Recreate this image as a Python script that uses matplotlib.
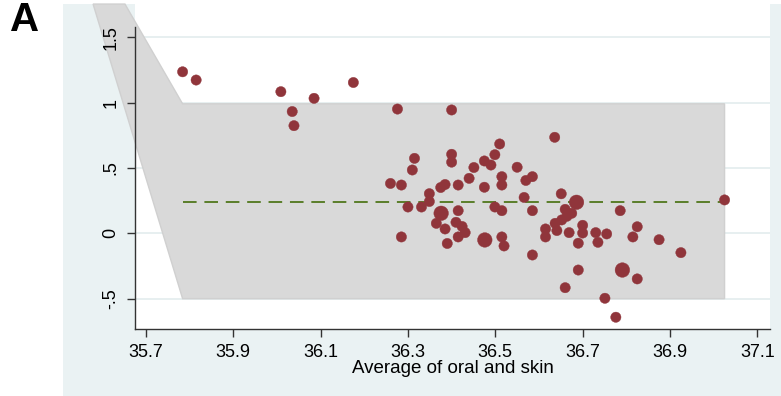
import numpy as np
import matplotlib
matplotlib.use("Agg")
import matplotlib.pyplot as plt
from matplotlib.patches import Polygon, Rectangle

plt.rcParams['font.family'] = ['Liberation Sans', 'DejaVu Sans']

# average of oral and skin temperature, difference, weight (frequency)
avg = [35.784, 35.815, 36.009, 36.085, 36.175, 36.035, 36.039, 36.276, 36.400, 36.636,
       36.510, 36.400, 36.400, 36.499, 36.315, 36.310, 36.475, 36.490, 36.451, 36.550,
       36.440, 36.515, 36.515, 36.475, 36.260, 36.285, 36.375, 36.385, 36.415, 36.349,
       36.349, 36.300, 36.331, 36.376, 36.415, 36.499, 36.515, 36.365, 36.385, 36.410,
       36.424, 36.431, 36.415, 36.476, 36.515, 36.520, 36.285, 36.390, 36.570, 36.585,
       36.566, 36.585, 36.651, 36.686, 36.660, 36.675, 36.664, 36.652, 36.637, 36.615,
       36.615, 36.641, 36.669, 36.700, 36.700, 36.690, 36.730, 36.735, 36.755, 36.786,
       36.825, 36.815, 36.875, 36.925, 37.025, 36.585, 36.690, 36.791, 36.825, 36.660,
       36.751, 36.776]
diff = [1.235, 1.172, 1.083, 1.032, 1.153, 0.931, 0.823, 0.950, 0.943, 0.734,
        0.683, 0.604, 0.544, 0.601, 0.573, 0.484, 0.553, 0.522, 0.503, 0.505,
        0.420, 0.433, 0.369, 0.352, 0.381, 0.369, 0.350, 0.373, 0.369, 0.303,
        0.243, 0.201, 0.201, 0.153, 0.173, 0.201, 0.173, 0.076, 0.033, 0.084,
        0.052, 0.005, -0.028, -0.051, -0.028, -0.097, -0.028, -0.078, 0.404, 0.433,
        0.274, 0.173, 0.302, 0.237, 0.183, 0.153, 0.130, 0.102, 0.076, 0.033,
        -0.028, 0.021, 0.005, 0.061, 0.002, -0.076, 0.005, -0.069, -0.005, 0.173,
        0.050, -0.028, -0.049, -0.148, 0.255, -0.166, -0.281, -0.281, -0.349, -0.416,
        -0.497, -0.642]
weight = [1] * len(avg)
for i in (33, 43, 53, 77):
    weight[i] = 2

mean_diff = 0.242
loa_upper = 0.99
loa_lower = -0.50
# slanted edges of the shaded area, where they leave the picture
funnel_top = 1.753
funnel_left = 35.579
funnel_right = 35.652

xticks = [35.7, 35.9, 36.1, 36.3, 36.5, 36.7, 36.9, 37.1]
yticks = [-0.5, 0, 0.5, 1, 1.5]
ylabels = ['-.5', '0', '.5', '1', '1.5']

bluish = '#EAF2F3'
cranberry = '#90353B'
dark = '#333333'

fig = plt.figure(figsize=(7.81, 3.96), dpi=100, facecolor='white')
fig.patches.append(Rectangle((63 / 781, 0), 1 - 63 / 781, 1 - 4 / 396,
                             transform=fig.transFigure, facecolor=bluish,
                             edgecolor='none', zorder=-10))
ax = fig.add_axes([135 / 781, 1 - 329 / 396, (770 - 135) / 781, 329 / 396])
ax.set_zorder(1)
ax.set_facecolor('white')
ax.set_xlim(35.675, 37.129)
ax.set_ylim(-0.732, 1.784)

for t in yticks:
    ax.axhline(t, color='#E3ECEE', lw=1.2, zorder=0.8)

xmin, xmax = min(avg), max(avg)
band = Polygon([(funnel_left, funnel_top), (funnel_right, funnel_top),
                (xmin, loa_upper), (xmax, loa_upper), (xmax, loa_lower),
                (xmin, loa_lower)], closed=True, facecolor='#D9D9D9',
               edgecolor='#D0D0D0', lw=1, zorder=1.1, clip_on=False)
ax.add_patch(band)

ax.plot([xmin, xmax], [mean_diff, mean_diff], color='#5A7E2A', lw=1.4,
        dashes=(7, 4), zorder=3)
ax.scatter(avg, diff, s=[55 * w for w in weight], color=cranberry,
           edgecolors=cranberry, linewidths=0.3, zorder=4)

for s in ('top', 'right'):
    ax.spines[s].set_visible(False)
for s in ('left', 'bottom'):
    ax.spines[s].set_color(dark)
    ax.spines[s].set_linewidth(1)
ax.spines['left'].set_bounds(-0.732, 1.577)

ax.set_xticks(xticks)
ax.set_xticklabels([f'{t:.1f}' for t in xticks])
ax.set_yticks(yticks)
ax.set_yticklabels(ylabels, rotation=90, va='center')
ax.tick_params(axis='both', colors=dark, labelcolor='black', length=6,
               width=1, labelsize=13, pad=5)
ax.set_xlabel('Average of oral and skin', fontsize=13.5, labelpad=-1)

fig.text(10 / 781, 0.997, 'A', fontsize=29, fontweight='bold', va='top', ha='left')

fig.savefig('out.png', dpi=100, facecolor='white')
